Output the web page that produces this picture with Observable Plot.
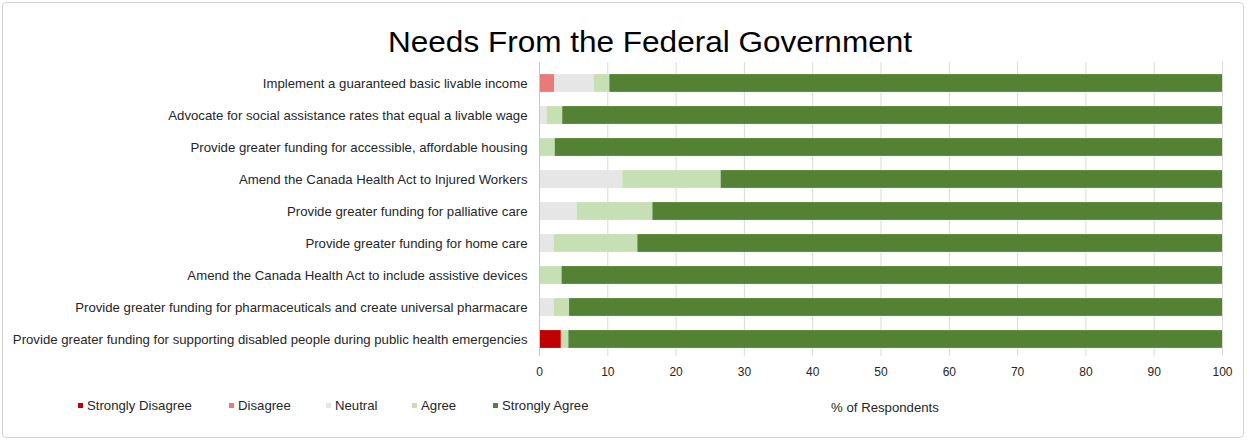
<!DOCTYPE html>
<html>
<head>
<meta charset="utf-8">
<script src="https://cdn.jsdelivr.net/npm/d3@7"></script>
<script src="https://cdn.jsdelivr.net/npm/@observablehq/plot@0.6"></script>
<style>
  html, body { margin: 0; padding: 0; background: #fff; }
  body { font-family: "Liberation Sans", Arial, sans-serif; }
  #wrap { position: relative; width: 1249px; height: 442px; overflow: hidden; }
  #frame { position: absolute; left: 2px; top: 2px; width: 1242px; height: 436px; border: 1px solid #d4d4d4; border-radius: 4px; box-sizing: border-box; }
  #title { position: absolute; left: 388px; top: 28px; font-size: 29px; line-height: 29px; color: #000; white-space: nowrap; transform-origin: 0 0; }
  #chart { position: absolute; left: 0; top: 60px; }
  #legend { position: absolute; left: 0; top: 0; width: 1249px; height: 442px; font-size: 13.2px; color: #262626; }
  #legend .item { position: absolute; top: 397px; height: 16px; display: flex; align-items: center; white-space: nowrap; }
  #legend .sw { width: 5px; height: 5px; margin-right: 4px; }
</style>
</head>
<body>
<div id="wrap">
  <div id="frame"></div>
  <div id="title">Needs From the Federal Government</div>
  <div id="chart"></div>
  <div id="legend"></div>
</div>
<script>
const categories = [
  "Implement a guaranteed basic livable income",
  "Advocate for social assistance rates that equal a livable wage",
  "Provide greater funding for accessible, affordable housing",
  "Amend the Canada Health Act to Injured Workers",
  "Provide greater funding for palliative care",
  "Provide greater funding for home care",
  "Amend the Canada Health Act to include assistive devices",
  "Provide greater funding for pharmaceuticals and create universal pharmacare",
  "Provide greater funding for supporting disabled people during public health emergencies"
];
const responses = ["Strongly Disagree", "Disagree", "Neutral", "Agree", "Strongly Agree"];
const colors = ["#c00000", "#ea7a7a", "#e6e6e6", "#c6e0b4", "#548235"];

const stronglyDisagree = [0, 0, 0, 0, 0, 0, 0, 0, 3.2];
const disagree         = [2.2, 0, 0, 0, 0, 0, 0, 0, 0];
const neutral          = [5.8, 1.1, 0, 12.2, 5.5, 2.2, 0, 2.2, 0];
const agree            = [2.3, 2.3, 2.3, 14.4, 11.1, 12.2, 3.3, 2.2, 1.1];
const stronglyAgree    = [89.7, 96.6, 97.7, 73.4, 83.4, 85.6, 96.7, 95.6, 95.7];
const xTicks = [0, 10, 20, 30, 40, 50, 60, 70, 80, 90, 100];

const series = [stronglyDisagree, disagree, neutral, agree, stronglyAgree];
const data = [];
categories.forEach((c, i) => {
  responses.forEach((r, j) => {
    data.push({category: c, response: r, value: series[j][i]});
  });
});

const chart = Plot.plot({
  width: 1249,
  height: 360,
  marginLeft: 539,
  marginRight: 27,
  marginTop: 2,
  marginBottom: 64,
  style: {fontFamily: "Liberation Sans, Arial, sans-serif", fontSize: "12px", color: "#262626", background: "transparent"},
  x: {domain: [0, 100]},
  y: {domain: categories, padding: 0, range: [6, 296]},
  color: {domain: responses, range: colors},
  marks: [
    Plot.gridX(xTicks.slice(1), {stroke: "#d9d9d9", strokeOpacity: 1}),
    Plot.barX(data, Plot.stackX({x: "value", y: "category", fill: "response", order: responses, insetTop: 7.1, insetBottom: 7.1})),
    Plot.ruleX([0], {stroke: "#c8c8c8"}),
    Plot.axisX({ticks: xTicks, tickSize: 0, tickPadding: 11, label: "% of Respondents", labelAnchor: "center", labelArrow: "none", labelOffset: 55, fontSize: 12}),
    Plot.axisY({tickSize: 0, tickPadding: 12, label: null, fontSize: 13.2})
  ]
});
document.getElementById("chart").appendChild(chart);

// x-axis label: slightly larger and nudged right, as in the reference
chart.querySelectorAll("text").forEach(t => {
  if (t.textContent === "% of Respondents") {
    t.setAttribute("dx", "4");
    t.setAttribute("font-size", "13.2");
    t.style.fontSize = "13.2px";
  }
});

// stretch the title to the reference width
const title = document.getElementById("title");
const tw = title.getBoundingClientRect().width;
title.style.transform = `scaleX(${524 / tw})`;

const legend = document.getElementById("legend");
const legendX = [78, 229, 326, 412, 493];
responses.forEach((r, i) => {
  const item = document.createElement("div");
  item.className = "item";
  item.style.left = legendX[i] + "px";
  const sw = document.createElement("span");
  sw.className = "sw";
  sw.style.background = colors[i];
  const t = document.createElement("span");
  t.textContent = r;
  item.appendChild(sw);
  item.appendChild(t);
  legend.appendChild(item);
});
</script>
</body>
</html>
